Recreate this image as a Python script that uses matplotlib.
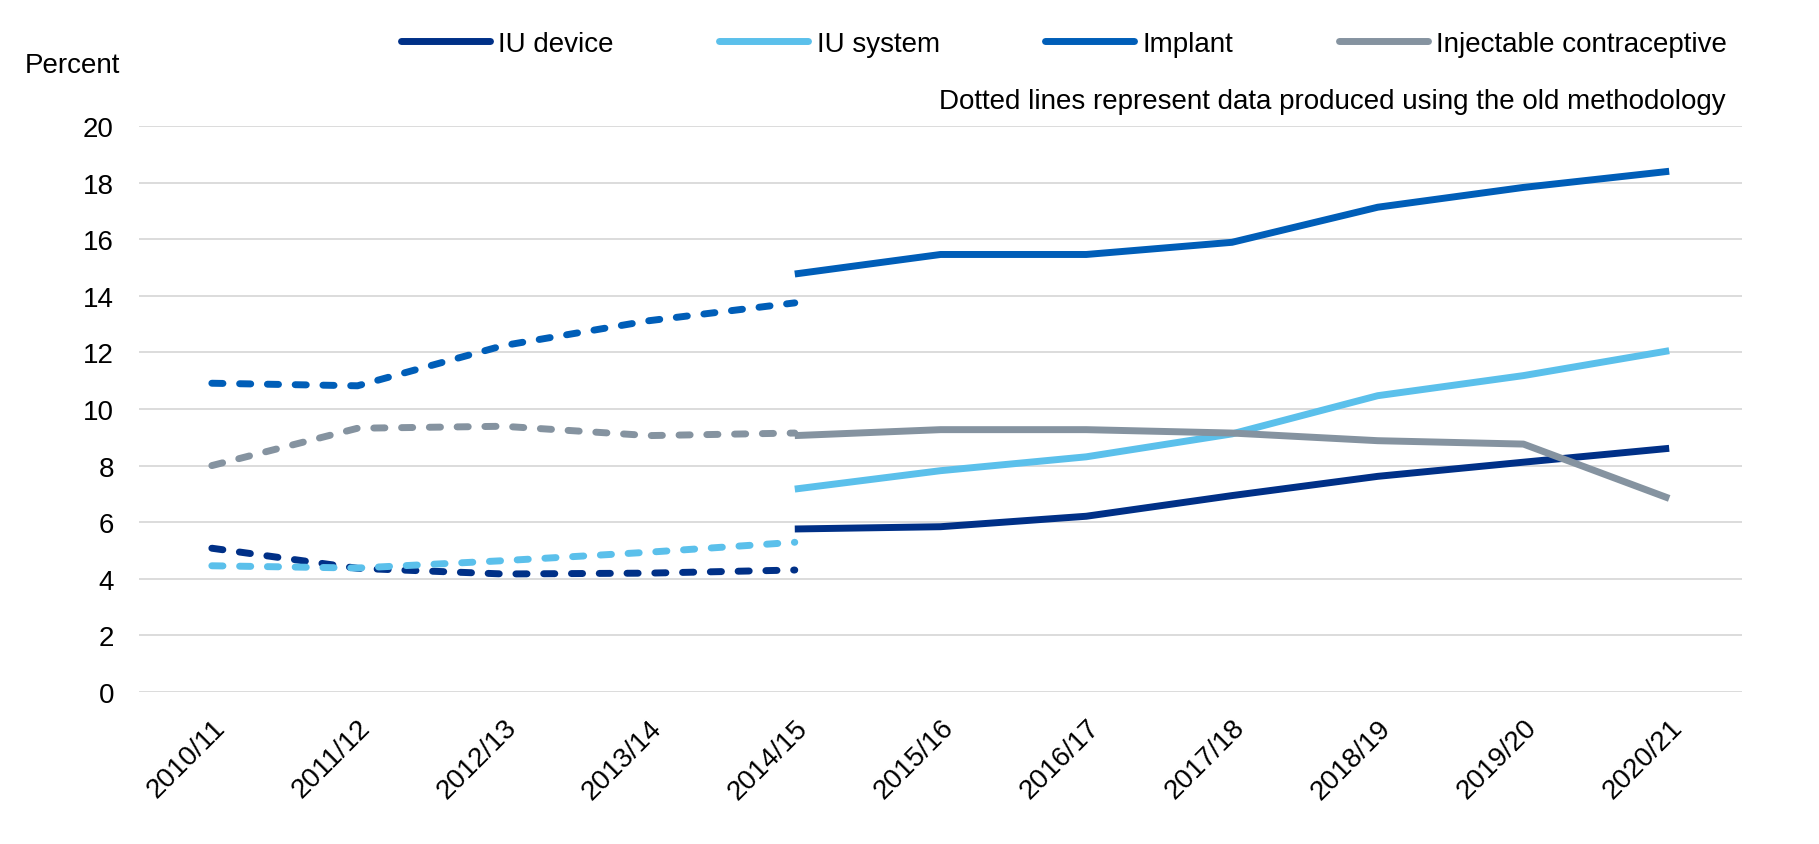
import matplotlib.pyplot as plt

plt.rcParams['font.family'] = ['Liberation Sans', 'DejaVu Sans']

years = ["2010/11", "2011/12", "2012/13", "2013/14", "2014/15", "2015/16",
         "2016/17", "2017/18", "2018/19", "2019/20", "2020/21"]

# old methodology (2010/11 - 2014/15), dotted
iud_old = [5.08, 4.37, 4.17, 4.20, 4.31]
ius_old = [4.46, 4.38, 4.64, 4.94, 5.29]
implant_old = [10.91, 10.82, 12.24, 13.12, 13.75]
inject_old = [8.00, 9.32, 9.39, 9.06, 9.15]

# new methodology (2014/15 - 2020/21), solid
iud_new = [5.76, 5.84, 6.21, 6.94, 7.62, 8.12, 8.61]
ius_new = [7.17, 7.82, 8.31, 9.12, 10.47, 11.18, 12.06]
implant_new = [14.77, 15.46, 15.46, 15.89, 17.13, 17.83, 18.40]
inject_new = [9.06, 9.27, 9.27, 9.15, 8.88, 8.76, 6.84]

labels = ["IU device", "IU system", "Implant", "Injectable contraceptive"]
colors = ["#003087", "#5BC0EB", "#005EB8", "#8593A0"]

fs = 20

fig = plt.figure(figsize=(18.19, 8.45), dpi=100)
ax = fig.add_axes([0.0764, 0.1799, 0.8813, 0.6698])

x_old = list(range(0, 5))
x_new = list(range(4, 11))
lw = 5.0

olds = [iud_old, ius_old, implant_old, inject_old]
news = [iud_new, ius_new, implant_new, inject_new]
for old, new, lab, c in zip(olds, news, labels, colors):
    ax.plot(x_old, old, color=c, lw=lw, dashes=(1.6, 2.4),
            dash_capstyle='round', solid_joinstyle='round')
    ax.plot(x_new, new, color=c, lw=lw, label=lab,
            solid_capstyle='butt', solid_joinstyle='round')

ax.set_xlim(-0.5, 10.5)
ax.set_ylim(0, 20)
ax.set_yticks(range(0, 21, 2))
ax.set_xticks(range(len(years)))
ax.set_xticklabels(years, rotation=45, ha='right', va='top',
                   rotation_mode='anchor')
ax.tick_params(axis='both', length=0, labelsize=fs, colors='black')
ax.tick_params(axis='y', pad=18)
ax.tick_params(axis='x', pad=16)
ax.grid(axis='y', color='#D9D9D9', lw=1.3)
ax.set_axisbelow(True)
for s in ax.spines.values():
    s.set_visible(False)

fig.text(25 / 1819, 1 - 66 / 845, "Percent", fontsize=fs, va='center', ha='left')
fig.text(1726 / 1819, 1 - 102 / 845,
         "Dotted lines represent data produced using the old methodology",
         fontsize=fs, va='center', ha='right')

leg = fig.legend(loc='center', bbox_to_anchor=(1064 / 1819, 1 - 45 / 845),
                 ncol=4, frameon=False, fontsize=fs, handlelength=3.2,
                 handletextpad=0.3, columnspacing=3.8, borderpad=0)
for h in leg.get_lines():
    h.set_solid_capstyle('round')
    h.set_linewidth(5)

fig.savefig("out.png", dpi=100)
